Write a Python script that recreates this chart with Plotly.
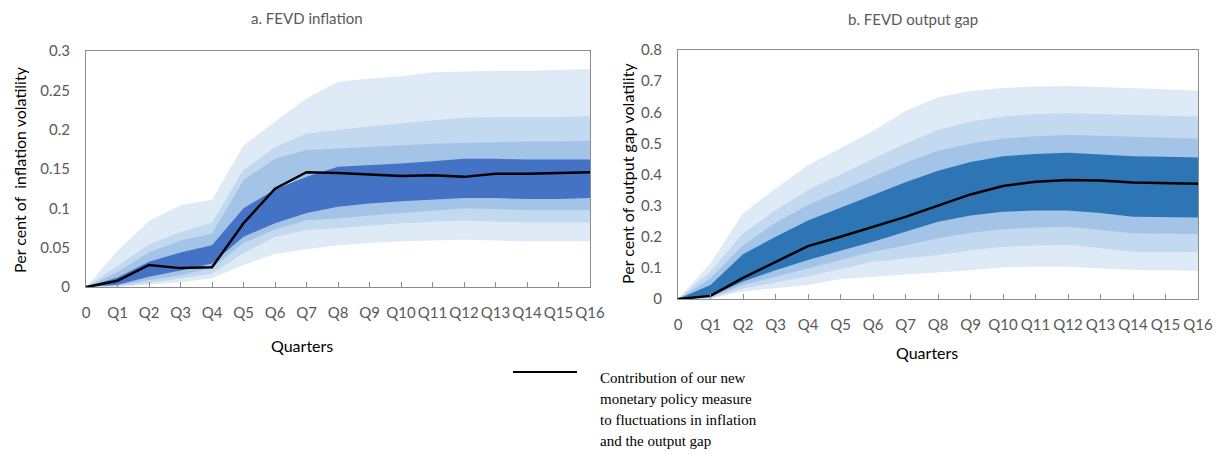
import plotly.graph_objects as go

quarters = list(range(17))
quarter_labels = ["0"] + [f"Q{i}" for i in range(1, 17)]

# a. FEVD inflation
inf_outer_hi = [0, 0.046, 0.084, 0.104, 0.111, 0.180, 0.210, 0.240, 0.261, 0.265, 0.268, 0.273, 0.274, 0.275, 0.275, 0.276, 0.277]
inf_mid_hi   = [0, 0.027, 0.054, 0.070, 0.082, 0.149, 0.178, 0.195, 0.200, 0.204, 0.208, 0.212, 0.215, 0.216, 0.216, 0.216, 0.217]
inf_inner_hi = [0, 0.019, 0.044, 0.059, 0.068, 0.136, 0.163, 0.174, 0.176, 0.178, 0.180, 0.182, 0.183, 0.184, 0.185, 0.185, 0.186]
inf_dark_hi  = [0, 0.012, 0.032, 0.044, 0.053, 0.100, 0.124, 0.140, 0.153, 0.155, 0.157, 0.160, 0.163, 0.163, 0.162, 0.162, 0.162]
inf_median   = [0, 0.008, 0.028, 0.024, 0.025, 0.081, 0.125, 0.146, 0.145, 0.143, 0.141, 0.142, 0.140, 0.144, 0.144, 0.145, 0.146]
inf_dark_lo  = [0, 0.003, 0.013, 0.021, 0.030, 0.064, 0.081, 0.094, 0.102, 0.106, 0.109, 0.111, 0.113, 0.113, 0.112, 0.112, 0.113]
inf_inner_lo = [0, 0.002, 0.009, 0.015, 0.024, 0.056, 0.073, 0.085, 0.087, 0.091, 0.094, 0.097, 0.100, 0.099, 0.098, 0.098, 0.098]
inf_mid_lo   = [0, 0.001, 0.005, 0.011, 0.017, 0.043, 0.064, 0.072, 0.075, 0.078, 0.081, 0.083, 0.085, 0.083, 0.082, 0.082, 0.082]
inf_outer_lo = [0, 0.000, 0.003, 0.006, 0.011, 0.028, 0.042, 0.048, 0.053, 0.056, 0.058, 0.059, 0.060, 0.059, 0.058, 0.058, 0.058]

# b. FEVD output gap
gap_outer_hi = [0, 0.115, 0.275, 0.355, 0.430, 0.485, 0.540, 0.605, 0.648, 0.668, 0.678, 0.683, 0.684, 0.681, 0.677, 0.674, 0.670]
gap_mid_hi   = [0, 0.088, 0.211, 0.285, 0.350, 0.400, 0.450, 0.500, 0.543, 0.570, 0.586, 0.594, 0.597, 0.594, 0.591, 0.588, 0.586]
gap_inner_hi = [0, 0.066, 0.173, 0.245, 0.302, 0.348, 0.393, 0.438, 0.476, 0.500, 0.516, 0.523, 0.527, 0.524, 0.521, 0.518, 0.516]
gap_dark_hi  = [0, 0.045, 0.144, 0.200, 0.252, 0.293, 0.334, 0.375, 0.412, 0.440, 0.459, 0.466, 0.470, 0.465, 0.459, 0.457, 0.455]
gap_median   = [0, 0.010, 0.068, 0.120, 0.170, 0.200, 0.232, 0.264, 0.300, 0.336, 0.363, 0.377, 0.382, 0.381, 0.374, 0.372, 0.370]
gap_dark_lo  = [0, 0.008, 0.056, 0.092, 0.125, 0.155, 0.184, 0.216, 0.248, 0.268, 0.280, 0.284, 0.284, 0.276, 0.264, 0.263, 0.262]
gap_inner_lo = [0, 0.005, 0.045, 0.072, 0.099, 0.125, 0.152, 0.172, 0.195, 0.213, 0.224, 0.230, 0.232, 0.222, 0.211, 0.210, 0.209]
gap_mid_lo   = [0, 0.003, 0.034, 0.053, 0.072, 0.096, 0.120, 0.130, 0.141, 0.157, 0.168, 0.172, 0.174, 0.163, 0.152, 0.151, 0.150]
gap_outer_lo = [0, 0.001, 0.024, 0.035, 0.045, 0.064, 0.073, 0.080, 0.085, 0.092, 0.102, 0.104, 0.104, 0.098, 0.093, 0.092, 0.091]

BAND_COLORS = ["#deebf7", "#c3d9ef", "#a3c4e6"]
DARK_LEFT = "#4472c4"
DARK_RIGHT = "#2e75b6"

fig = go.Figure()


def add_bands(bands, dark_color, xa, ya):
    colors = BAND_COLORS + [dark_color]
    for (hi, lo), col in zip(bands, colors):
        fig.add_trace(go.Scatter(
            x=quarters + quarters[::-1], y=hi + lo[::-1],
            fill="toself", fillcolor=col, mode="lines", line=dict(width=0, color=col),
            hoverinfo="skip", showlegend=False, xaxis=xa, yaxis=ya))


add_bands([(inf_outer_hi, inf_outer_lo), (inf_mid_hi, inf_mid_lo),
           (inf_inner_hi, inf_inner_lo), (inf_dark_hi, inf_dark_lo)], DARK_LEFT, "x", "y")
fig.add_trace(go.Scatter(x=quarters, y=inf_median, mode="lines",
                         line=dict(color="black", width=2.5), showlegend=False, xaxis="x", yaxis="y"))

add_bands([(gap_outer_hi, gap_outer_lo), (gap_mid_hi, gap_mid_lo),
           (gap_inner_hi, gap_inner_lo), (gap_dark_hi, gap_dark_lo)], DARK_RIGHT, "x2", "y2")
fig.add_trace(go.Scatter(x=quarters, y=gap_median, mode="lines",
                         line=dict(color="black", width=2.5), showlegend=False, xaxis="x2", yaxis="y2"))

W, H = 1224, 455
FONT = "Lato"
TICK_FONT = dict(family=FONT, size=15, color="#595959")
FRAME = "#8c8c8c"


def px(x):
    return x / W


def py(y):
    return 1 - y / H


xaxis_common = dict(
    tickmode="array", tickvals=quarters, ticktext=quarter_labels, tickangle=0,
    showgrid=False, zeroline=False, showline=True, linecolor=FRAME, linewidth=1.2,
    mirror=True, ticks="inside", ticklen=5, tickcolor=FRAME, tickfont=TICK_FONT,
    range=[0, 16], fixedrange=True, ticklabelstandoff=12, automargin=False,
)
yaxis_common = dict(
    showgrid=False, zeroline=False, showline=True, linecolor=FRAME, linewidth=1.2,
    mirror=True, ticks="", tickfont=TICK_FONT, fixedrange=True, ticklabelstandoff=12,
    automargin=False,
)

fig.update_layout(
    width=W, height=H, autosize=False,
    margin=dict(l=0, r=0, t=0, b=0, pad=0, autoexpand=False),
    paper_bgcolor="white", plot_bgcolor="white",
    font=dict(family=FONT),
    xaxis=dict(domain=[px(86), px(590)], anchor="y", **xaxis_common),
    yaxis=dict(domain=[py(287), py(51)], anchor="x", range=[0, 0.3],
               tickvals=[0, 0.05, 0.1, 0.15, 0.2, 0.25, 0.3],
               ticktext=["0", "0.05", "0.1", "0.15", "0.2", "0.25", "0.3"], **yaxis_common),
    xaxis2=dict(domain=[px(678), px(1198)], anchor="y2", **xaxis_common),
    yaxis2=dict(domain=[py(299), py(50)], anchor="x2", range=[0, 0.8],
                tickvals=[0, 0.1, 0.2, 0.3, 0.4, 0.5, 0.6, 0.7, 0.8],
                ticktext=["0", "0.1", "0.2", "0.3", "0.4", "0.5", "0.6", "0.7", "0.8"], **yaxis_common),
)


def label(text, x, y, size, color, family=FONT, angle=0, xanchor="center"):
    return dict(text=text, x=px(x), y=py(y), xref="paper", yref="paper",
                xanchor=xanchor, yanchor="middle", textangle=angle, showarrow=False,
                font=dict(family=family, size=size, color=color))


ann = [
    label("a. FEVD inflation", 307, 18, 15, "#595959"),
    label("b. FEVD output gap", 913, 19, 15, "#595959"),
    label("Per cent of  inflation volatility", 19, 170, 16, "#000000", angle=-90),
    label("Per cent of output gap volatility", 627, 174, 16, "#000000", angle=-90),
    label("Quarters", 302, 345, 16, "#000000"),
    label("Quarters", 927, 352, 16, "#000000"),
]

legend_lines = ["Contribution of our new", "monetary policy measure",
                "to fluctuations in inflation", "and the output gap"]
for i, t in enumerate(legend_lines):
    ann.append(label(t, 598, 378 + 21 * i, 15, "#000000", family="Liberation Serif", xanchor="left"))

fig.update_layout(annotations=ann)
fig.add_shape(type="line", xref="paper", yref="paper", x0=px(513), x1=px(577), y0=py(372), y1=py(372),
              line=dict(color="black", width=2))

fig.write_html("out.html", config={"displayModeBar": False},
               post_script="document.body.style.margin='0';document.body.style.padding='0';"
                           "document.documentElement.style.overflow='hidden';")
